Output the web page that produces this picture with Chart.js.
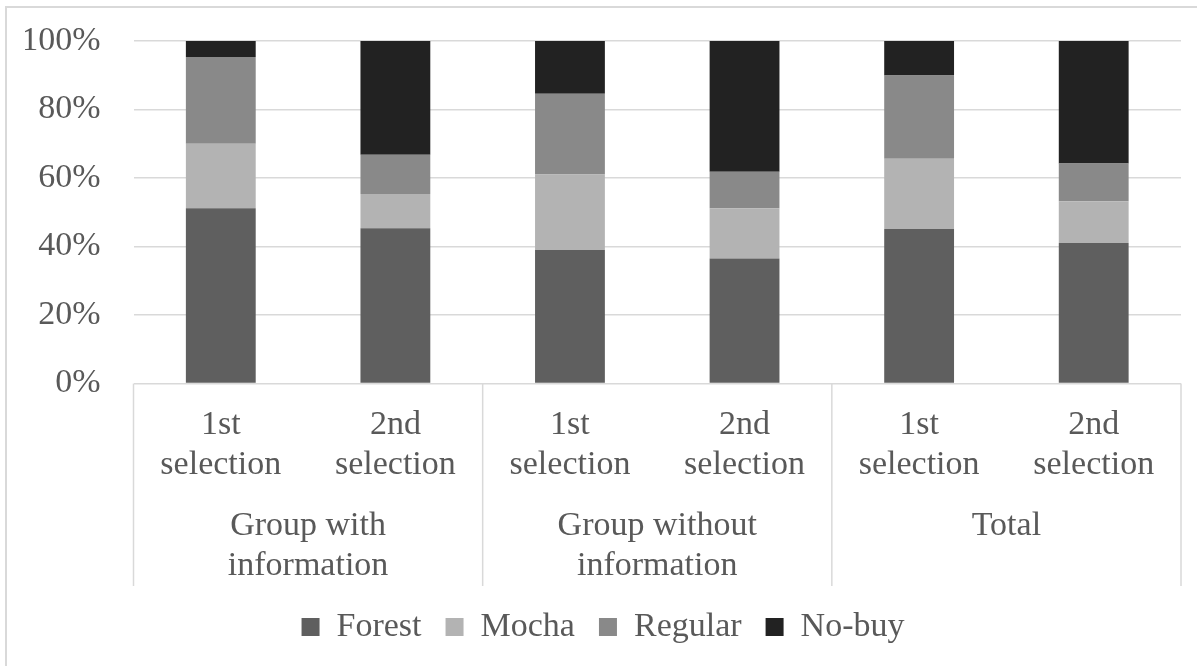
<!DOCTYPE html>
<html>
<head>
<meta charset="utf-8">
<script src="https://cdn.jsdelivr.net/npm/chart.js@4"></script>
<style>
  html, body { margin: 0; padding: 0; background: #ffffff; }
  #wrap { position: relative; width: 1197px; height: 666px; overflow: hidden; }
  #frame { position: absolute; left: 5px; top: 6px; width: 1300px; height: 800px;
           border-top: 2px solid #d9d9d9; border-left: 2px solid #d9d9d9; box-sizing: border-box; }
  canvas { position: absolute; left: 0; top: 0; }
</style>
</head>
<body>
<div id="wrap">
  <div id="frame"></div>
  <canvas id="c" width="1197" height="666"></canvas>
</div>
<script>
// ---- data ----
const categories = [
  ['1st', 'selection'], ['2nd', 'selection'],
  ['1st', 'selection'], ['2nd', 'selection'],
  ['1st', 'selection'], ['2nd', 'selection']
];
const groups = [['Group with', 'information'], ['Group without', 'information'], ['Total']];
const seriesNames = ['Forest', 'Mocha', 'Regular', 'No-buy'];
const forest  = [51.2, 45.3, 39.0, 36.5, 45.1, 41.0];
const mocha   = [18.8, 10.0, 22.0, 14.7, 20.5, 12.2];
const regular = [25.3, 11.5, 23.6, 10.6, 24.3, 11.0];
const noBuy   = [4.7, 33.2, 15.4, 38.2, 10.1, 35.8];
const yTicks  = [0, 20, 40, 60, 80, 100];

const colors = ['#5f5f5f', '#b3b3b3', '#898989', '#222222'];
const textColor = '#595959';
const gridColor = '#d9d9d9';
const font = { family: '"Liberation Serif", "Times New Roman", serif', size: 34, lineHeight: 1.18 };

const separators = {
  id: 'separators',
  afterDraw(chart) {
    const x = chart.scales.x, x2 = chart.scales.x2, ctx = chart.ctx;
    ctx.save();
    ctx.strokeStyle = gridColor;
    ctx.lineWidth = 1.5;
    for (let i = 0; i <= groups.length; i++) {
      const px = x.getPixelForValue(-0.5 + 2 * i);
      ctx.beginPath();
      ctx.moveTo(px, x.top);
      ctx.lineTo(px, x2.bottom);
      ctx.stroke();
    }
    ctx.restore();
  }
};

const data = [forest, mocha, regular, noBuy];
new Chart(document.getElementById('c'), {
  type: 'bar',
  data: {
    labels: categories,
    datasets: seriesNames.map((n, i) => ({
      label: n,
      data: data[i],
      backgroundColor: colors[i],
      borderWidth: 0,
      barPercentage: 0.4,
      categoryPercentage: 1.0
    }))
  },
  options: {
    responsive: false,
    animation: false,
    devicePixelRatio: 1,
    layout: { padding: { left: 25, right: 16, top: 41, bottom: 12 } },
    plugins: {
      tooltip: { enabled: false },
      legend: {
        position: 'bottom',
        labels: { font: font, color: textColor, boxWidth: 18, boxHeight: 18, padding: 24 }
      }
    },
    scales: {
      x: {
        stacked: true,
        grid: { display: false, drawTicks: false },
        border: { display: false },
        ticks: { font: font, color: textColor, padding: 21, maxRotation: 0, autoSkip: false }
      },
      x2: {
        type: 'category',
        labels: groups,
        position: 'bottom',
        offset: true,
        grid: { display: false, drawTicks: false },
        border: { display: false },
        ticks: { font: font, color: textColor, padding: 0, maxRotation: 0, autoSkip: false }
      },
      y: {
        stacked: true,
        min: 0, max: 100,
        afterBuildTicks(scale) { scale.ticks = yTicks.map(v => ({ value: v })); },
        afterFit(scale) { scale.width = 108.5; scale.paddingTop = 0; scale.paddingBottom = 0; },
        grid: { color: gridColor, lineWidth: 1.5, drawTicks: false },
        border: { display: false },
        ticks: { font: font, color: textColor, padding: 33, callback: v => v + '%' }
      }
    }
  },
  plugins: [separators]
});
</script>
</body>
</html>
